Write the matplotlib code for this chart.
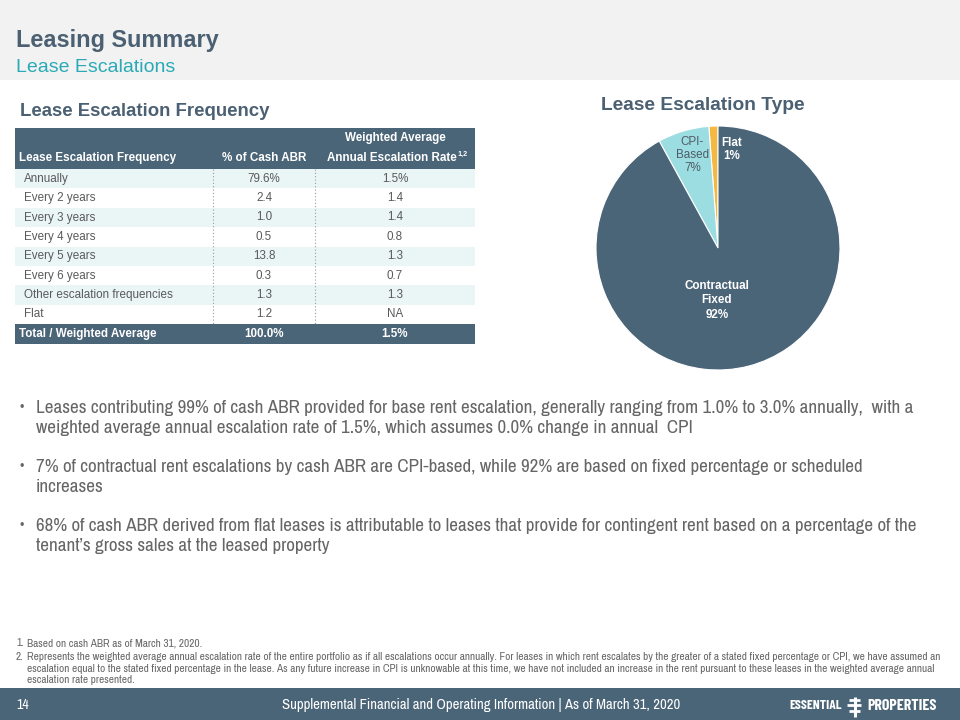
import matplotlib
matplotlib.use("Agg")
import matplotlib.pyplot as plt
from matplotlib.patches import Rectangle
from matplotlib import font_manager

# ---------------- data ----------------
table_labels = ["Annually", "Every 2 years", "Every 3 years", "Every 4 years",
                "Every 5 years", "Every 6 years", "Other escalation frequencies", "Flat"]
pct_cash_abr = ["79.6%", "2.4", "1.0", "0.5", "13.8", "0.3", "1.3", "1.2"]
wavg_rate = ["1.5%", "1.4", "1.4", "0.8", "1.3", "0.7", "1.3", "NA"]
total_row = ["Total / Weighted Average", "100.0%", "1.5%"]

pie_categories = ["Flat", "CPI-\nBased", "Contractual\nFixed"]
pie_values = [1.2, 6.8, 92.0]
pie_pct_labels = ["1%", "7%", "92%"]

bullets = [
    "Leases contributing 99% of cash ABR provided for base rent escalation, generally ranging from 1.0% to 3.0% annually,  with a\nweighted average annual escalation rate of 1.5%, which assumes 0.0% change in annual  CPI",
    "7% of contractual rent escalations by cash ABR are CPI-based, while 92% are based on fixed percentage or scheduled\nincreases",
    "68% of cash ABR derived from flat leases is attributable to leases that provide for contingent rent based on a percentage of the\ntenant\u2019s gross sales at the leased property",
]
footnote_nums = ["1.", "2."]
footnotes = [
    "Based on cash ABR as of March 31, 2020.",
    "Represents the weighted average annual escalation rate of the entire portfolio as if all escalations occur annually. For leases in which rent escalates by the greater of a stated fixed percentage or CPI, we have assumed an\nescalation equal to the stated fixed percentage in the lease. As any future increase in CPI is unknowable at this time, we have not included an increase in the rent pursuant to these leases in the weighted average annual\nescalation rate presented.",
]
footer_text = "Supplemental Financial and Operating Information | As of March 31, 2020"
page_number = "14"

# ---------------- style ----------------
DARK = "#4A6478"
TITLE = "#4B6072"
TEAL = "#2AAAB6"
LIGHT_ROW = "#EAF5F6"
GREY_TXT = "#5A5A5A"
BODY_TXT = "#666666"
CYAN = "#9CDDE2"
YELLOW = "#F4B942"

avail = {f.name for f in font_manager.fontManager.ttflist}
def pick(*names):
    for n in names:
        if n in avail:
            return n
    return "DejaVu Sans"
SANS = pick("Liberation Sans", "Arimo", "DejaVu Sans")
NARROW = pick("Liberation Sans Narrow", "Archivo Narrow", "Barlow Semi Condensed", SANS)
LOGO = pick("Barlow Condensed", "Barlow Semi Condensed", NARROW)
plt.rcParams["font.family"] = [SANS, "DejaVu Sans"]

W, H = 960, 720
fig = plt.figure(figsize=(W / 100, H / 100), dpi=100)
bg = fig.add_axes([0, 0, 1, 1])
bg.set_xlim(0, W)
bg.set_ylim(H, 0)
bg.axis("off")
renderer = fig.canvas.get_renderer()

def fit(textobj, width_px, base):
    """scale font size so the rendered text is width_px wide"""
    w = textobj.get_window_extent(renderer).width
    textobj.set_fontsize(base * width_px / w)

# header band
bg.add_patch(Rectangle((0, 0), W, 80, color="#F2F2F2", lw=0))
bg.text(16, 40, "Leasing Summary", fontsize=16.9, fontweight="bold", color=TITLE, va="center")
bg.text(16, 67, "Lease Escalations", fontsize=14, color=TEAL, va="center")

# section titles
bg.text(20, 112, "Lease Escalation Frequency", fontsize=13.4, fontweight="bold", color=TITLE, va="center")
bg.text(703, 106, "Lease Escalation Type", fontsize=13.8, fontweight="bold", color=TITLE, va="center", ha="center")

# ---------------- table ----------------
FS = 8.4
tx0, tx1 = 15, 475
c1, c2 = 213, 315
cx2, cx3 = 264, 395
head_top, head_bot = 128, 169
rh = 19.4
bg.add_patch(Rectangle((tx0, head_top), tx1 - tx0, head_bot - head_top, color=DARK, lw=0))
bg.text(19, 158, "Lease Escalation Frequency", fontsize=FS, fontweight="bold", color="white", va="center")
bg.text(cx2, 158, "% of Cash ABR", fontsize=FS, fontweight="bold", color="white", va="center", ha="center")
bg.text(cx3, 138, "Weighted Average", fontsize=FS, fontweight="bold", color="white", va="center", ha="center")
t_ann = bg.text(cx3 - 3, 158, "Annual Escalation Rate", fontsize=FS, fontweight="bold",
                color="white", va="center", ha="center")
ext = t_ann.get_window_extent(renderer)
x_sup = bg.transData.inverted().transform((ext.x1, 0))[0]
bg.text(x_sup + 1, 154, "1,2", fontsize=5.2, fontweight="bold", color="white", va="center", ha="left")

for i, (lab, p, r) in enumerate(zip(table_labels, pct_cash_abr, wavg_rate)):
    top = head_bot + i * rh
    if i % 2 == 0:
        bg.add_patch(Rectangle((tx0, top), tx1 - tx0, rh, color=LIGHT_ROW, lw=0))
    yc = top + rh / 2
    bg.text(24, yc, lab, fontsize=FS, color=GREY_TXT, va="center")
    bg.text(cx2, yc, p, fontsize=FS, color=GREY_TXT, va="center", ha="center")
    bg.text(cx3, yc, r, fontsize=FS, color=GREY_TXT, va="center", ha="center")

rows_bot = head_bot + len(table_labels) * rh
for xx in (c1, c2):
    bg.plot([xx, xx], [head_bot, rows_bot], color="#9A9A9A", lw=0.8, ls=(0, (1, 2)))
bg.add_patch(Rectangle((tx0, rows_bot), tx1 - tx0, rh, color=DARK, lw=0))
ty = rows_bot + rh / 2
bg.text(19, ty, total_row[0], fontsize=FS, fontweight="bold", color="white", va="center")
bg.text(cx2, ty, total_row[1], fontsize=FS, fontweight="bold", color="white", va="center", ha="center")
bg.text(cx3, ty, total_row[2], fontsize=FS, fontweight="bold", color="white", va="center", ha="center")

# ---------------- pie ----------------
pcx, pcy, pr = 718, 248, 122
pax = fig.add_axes([(pcx - pr) / W, 1 - (pcy + pr) / H, 2 * pr / W, 2 * pr / H])
wedges, _ = pax.pie(pie_values, colors=[YELLOW, CYAN, DARK], startangle=90, counterclock=True,
                    wedgeprops=dict(linewidth=0.8, edgecolor="white"))
pax.set_xlim(-1, 1)
pax.set_ylim(-1, 1)
pax.axis("off")
pax.text(0.11, 0.81, f"{pie_categories[0]}\n{pie_pct_labels[0]}", fontsize=8.4, fontweight="bold",
         color="white", ha="center", va="center", linespacing=1.15)
pax.text(-0.21, 0.76, f"{pie_categories[1]}\n{pie_pct_labels[1]}", fontsize=8.4,
         color="#4E5B66", ha="center", va="center", linespacing=1.1)
pax.text(-0.01, -0.43, f"{pie_categories[2]}\n{pie_pct_labels[2]}", fontsize=8.4, fontweight="bold",
         color="white", ha="center", va="center", linespacing=1.25)

# ---------------- bullets ----------------
bullet_y = [408, 467, 526]
bfs = 12.5
t0 = bg.text(36, 0, bullets[0].split("\n")[0], fontsize=bfs, family=[NARROW, "DejaVu Sans"])
w0 = t0.get_window_extent(renderer).width
t0.remove()
bfs = bfs * 882 / w0
for by, txt in zip(bullet_y, bullets):
    bg.text(20, by, "\u2022", fontsize=9, color=BODY_TXT, va="center", family=[SANS, "DejaVu Sans"])
    bg.text(36, by, txt.split("\n")[0], fontsize=bfs, color=BODY_TXT, va="center",
            family=[NARROW, "DejaVu Sans"])
    bg.text(36, by + 19.5, txt.split("\n")[1], fontsize=bfs, color=BODY_TXT, va="center",
            family=[NARROW, "DejaVu Sans"])

# ---------------- footnotes ----------------
ffs = 6.5
tf = bg.text(27, 0, footnotes[1].split("\n")[0], fontsize=ffs, family=[NARROW, "DejaVu Sans"])
wf = tf.get_window_extent(renderer).width
tf.remove()
ffs = ffs * 909 / wf
foot_lines = [(footnote_nums[0], [footnotes[0]], 643), (footnote_nums[1], footnotes[1].split("\n"), 657)]
for num, lines, y0 in foot_lines:
    bg.text(16, y0, num, fontsize=ffs, color=BODY_TXT, va="center", family=[NARROW, "DejaVu Sans"])
    for k, ln in enumerate(lines):
        bg.text(27, y0 + k * 11.5, ln, fontsize=ffs, color=BODY_TXT, va="center",
                family=[NARROW, "DejaVu Sans"])

# ---------------- footer ----------------
bg.add_patch(Rectangle((0, 688), W, 32, color=DARK, lw=0))
bg.text(16, 705, page_number, fontsize=10, color="white", va="center", family=[NARROW, "DejaVu Sans"])
tft = bg.text(481, 705, footer_text, fontsize=10, color="white", va="center", ha="center",
              family=[NARROW, "DejaVu Sans"])
fit(tft, 397, 10)
t1 = bg.text(842, 705.5, "ESSENTIAL", fontsize=11, fontweight="bold", color="white", va="center", ha="right",
             family=[LOGO, "DejaVu Sans"])
fit(t1, 52, 11)
t2 = bg.text(867, 705.5, "PROPERTIES", fontsize=11, fontweight="bold", color="white", va="center", ha="left",
             family=[LOGO, "DejaVu Sans"])
fit(t2, 69, 11)
# logo mark
bg.plot([854.5, 854.5], [697, 717], color="white", lw=2.2, solid_capstyle="butt")
for yy, xa, xb in ((699.5, 849, 860), (705, 847, 861), (710.5, 849, 860)):
    bg.plot([xa, xb], [yy, yy], color="white", lw=2.0, solid_capstyle="butt")

fig.savefig("out.png", dpi=100)
